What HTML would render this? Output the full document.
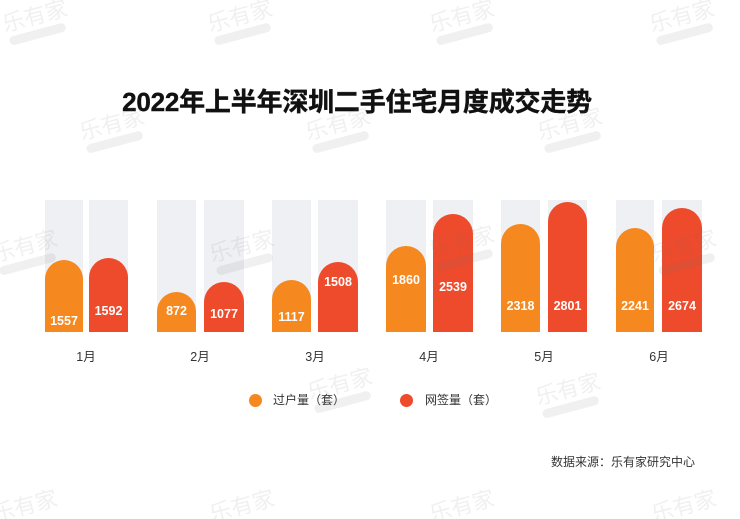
<!DOCTYPE html>
<html><head><meta charset="utf-8">
<style>
html,body{margin:0;padding:0;background:#fff;}
body{width:740px;height:519px;position:relative;overflow:hidden;font-family:"Liberation Sans","Noto Sans CJK SC",sans-serif;}
.t{position:absolute;left:-13px;width:740px;top:85px;text-align:center;font-size:26px;font-weight:bold;color:#111;line-height:34px;letter-spacing:-0.2px;-webkit-text-stroke:0.4px #111;}
.trk{position:absolute;top:200px;height:132px;background:#eff0f3;}
.bar{position:absolute;bottom:187px;}
.o{background:#f5881f;}
.r{background:#ee4a2c;}
.v{position:absolute;color:#fff;font-weight:bold;font-size:12.5px;text-align:center;line-height:14px;}
.m{position:absolute;top:349px;font-size:12.5px;color:#333;text-align:center;width:80px;line-height:16px;}
.lg{position:absolute;font-size:12px;color:#333;line-height:16px;top:392px;}
.dot{position:absolute;width:13px;height:13px;border-radius:50%;top:394px;}
.src{position:absolute;right:45px;top:454px;font-size:12px;color:#333;line-height:16px;}
svg.wm{position:absolute;left:0;top:0;z-index:5;}
</style></head><body>

<div class="t">2022年上半年深圳二手住宅月度成交走势</div>

<!-- tracks -->
<div class="trk" style="left:45px;width:38px"></div><div class="trk" style="left:89px;width:39px"></div>
<div class="trk" style="left:157px;width:39px"></div><div class="trk" style="left:204px;width:40px"></div>
<div class="trk" style="left:272px;width:39px"></div><div class="trk" style="left:318px;width:40px"></div>
<div class="trk" style="left:386px;width:40px"></div><div class="trk" style="left:433px;width:40px"></div>
<div class="trk" style="left:501px;width:39px"></div><div class="trk" style="left:548px;width:39px"></div>
<div class="trk" style="left:616px;width:38px"></div><div class="trk" style="left:662px;width:40px"></div>

<!-- bars -->
<div class="bar o" style="left:45px;width:38px;height:72px;border-radius:19px 19px 0 0"></div>
<div class="bar r" style="left:89px;width:39px;height:74px;border-radius:19.5px 19.5px 0 0"></div>
<div class="bar o" style="left:157px;width:39px;height:40.5px;border-radius:19.5px 19.5px 0 0"></div>
<div class="bar r" style="left:204px;width:40px;height:50px;border-radius:20px 20px 0 0"></div>
<div class="bar o" style="left:272px;width:39px;height:52px;border-radius:19.5px 19.5px 0 0"></div>
<div class="bar r" style="left:318px;width:40px;height:70px;border-radius:20px 20px 0 0"></div>
<div class="bar o" style="left:386px;width:40px;height:86px;border-radius:20px 20px 0 0"></div>
<div class="bar r" style="left:433px;width:40px;height:118px;border-radius:20px 20px 0 0"></div>
<div class="bar o" style="left:501px;width:39px;height:108px;border-radius:19.5px 19.5px 0 0"></div>
<div class="bar r" style="left:548px;width:39px;height:130px;border-radius:19.5px 19.5px 0 0"></div>
<div class="bar o" style="left:616px;width:38px;height:104px;border-radius:19px 19px 0 0"></div>
<div class="bar r" style="left:662px;width:40px;height:124px;border-radius:20px 20px 0 0"></div>

<!-- values -->
<div class="v" style="left:45px;width:38px;top:314px">1557</div>
<div class="v" style="left:89px;width:39px;top:304px">1592</div>
<div class="v" style="left:157px;width:39px;top:304px">872</div>
<div class="v" style="left:204px;width:40px;top:307px">1077</div>
<div class="v" style="left:272px;width:39px;top:310px">1117</div>
<div class="v" style="left:318px;width:40px;top:275px">1508</div>
<div class="v" style="left:386px;width:40px;top:273px">1860</div>
<div class="v" style="left:433px;width:40px;top:280px">2539</div>
<div class="v" style="left:501px;width:39px;top:299px">2318</div>
<div class="v" style="left:548px;width:39px;top:299px">2801</div>
<div class="v" style="left:616px;width:38px;top:299px">2241</div>
<div class="v" style="left:662px;width:40px;top:299px">2674</div>

<!-- months -->
<div class="m" style="left:46px">1月</div>
<div class="m" style="left:160px">2月</div>
<div class="m" style="left:275px">3月</div>
<div class="m" style="left:389px">4月</div>
<div class="m" style="left:504px">5月</div>
<div class="m" style="left:619px">6月</div>

<!-- legend -->
<div class="dot" style="left:249px;background:#f5881f"></div>
<div class="lg" style="left:273px">过户量（套）</div>
<div class="dot" style="left:400px;background:#ee4a2c"></div>
<div class="lg" style="left:425px">网签量（套）</div>

<div class="src">数据来源：乐有家研究中心</div>

<svg class="wm" width="740" height="519">
<g fill="rgba(120,120,120,0.11)" font-family="Noto Sans CJK SC, sans-serif" font-size="22">
<g transform="translate(5,32) rotate(-15)"><text>乐有家</text><rect x="2" y="6" width="58" height="9" rx="4.5"/></g>
<g transform="translate(210,32) rotate(-15)"><text>乐有家</text><rect x="2" y="6" width="58" height="9" rx="4.5"/></g>
<g transform="translate(432,32) rotate(-15)"><text>乐有家</text><rect x="2" y="6" width="58" height="9" rx="4.5"/></g>
<g transform="translate(652,32) rotate(-15)"><text>乐有家</text><rect x="2" y="6" width="58" height="9" rx="4.5"/></g>
<g transform="translate(82,140) rotate(-15)"><text>乐有家</text><rect x="2" y="6" width="58" height="9" rx="4.5"/></g>
<g transform="translate(308,140) rotate(-15)"><text>乐有家</text><rect x="2" y="6" width="58" height="9" rx="4.5"/></g>
<g transform="translate(540,140) rotate(-15)"><text>乐有家</text><rect x="2" y="6" width="58" height="9" rx="4.5"/></g>
<g transform="translate(-5,262) rotate(-15)"><text>乐有家</text><rect x="2" y="6" width="58" height="9" rx="4.5"/></g>
<g transform="translate(212,262) rotate(-15)"><text>乐有家</text><rect x="2" y="6" width="58" height="9" rx="4.5"/></g>
<g transform="translate(432,258) rotate(-15)"><text>乐有家</text><rect x="2" y="6" width="58" height="9" rx="4.5"/></g>
<g transform="translate(654,262) rotate(-15)"><text>乐有家</text><rect x="2" y="6" width="58" height="9" rx="4.5"/></g>
<g transform="translate(310,400) rotate(-15)"><text>乐有家</text><rect x="2" y="6" width="58" height="9" rx="4.5"/></g>
<g transform="translate(538,405) rotate(-15)"><text>乐有家</text><rect x="2" y="6" width="58" height="9" rx="4.5"/></g>
<g transform="translate(-5,522) rotate(-15)"><text>乐有家</text></g>
<g transform="translate(212,522) rotate(-15)"><text>乐有家</text></g>
<g transform="translate(432,522) rotate(-15)"><text>乐有家</text></g>
<g transform="translate(654,522) rotate(-15)"><text>乐有家</text></g>
</g>
</svg>
</body></html>
